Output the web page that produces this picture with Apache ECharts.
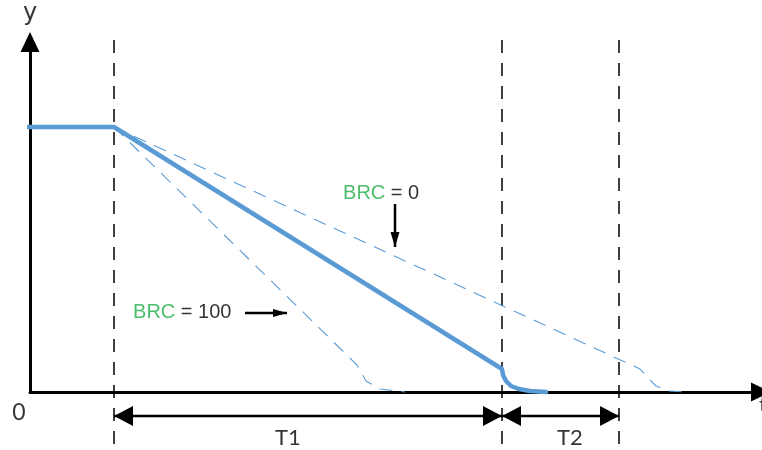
<!DOCTYPE html>
<html>
<head>
<meta charset="utf-8">
<script src="https://cdn.jsdelivr.net/npm/echarts@6/dist/echarts.min.js"></script>
<style>
html,body{margin:0;padding:0;background:#fff;}
#chart{width:762px;height:450px;}
</style>
</head>
<body>
<div id="chart"></div>
<script>
//坐标单位：原点在两轴交点，x向右，y向上
var mainLine = [[-2,265],[84,265],[472,23],[473,17],[476,11],[481,6],[489,3],[500,1],[516,0]];
var brc0Line = [[84,265],[610,23],[618,14],[626,6],[638,1],[658,0]];
var brc100Line = [[84,265],[327,27],[336,11],[350,3],[375,0]];
var guideX = [84, 472, 589];
var guideY = [352, -58];
var spans = [[84,472],[472,589]];
var spanY = -24;
var spanNames = ['T1','T2'];
var brc0Arrow = [[365,188],[365,145]];
var brc100Arrow = [[215,79],[257,79]];

var blue = '#5b9bd5';
var textFont = 'Lato, "Open Sans", sans-serif';

/************************** 箭头线 **************************/
function arrowSeries(from, to, len, wid, both, lw){
	var dx = to[0]-from[0], dy = to[1]-from[1];
	var d = Math.sqrt(dx*dx+dy*dy);
	var ux = dx/d, uy = dy/d;
	//三角形默认朝上，逆时针旋转
	var rotEnd = Math.atan2(uy, ux)*180/Math.PI - 90;
	var endItem = {
		value: to,
		symbol: 'triangle',
		symbolSize: [wid, len],
		symbolRotate: rotEnd,
		symbolOffset: [-ux*len/2, uy*len/2]
	};
	var startItem = {value: from, symbol: 'none'};
	if(both){
		startItem = {
			value: from,
			symbol: 'triangle',
			symbolSize: [wid, len],
			symbolRotate: rotEnd+180,
			symbolOffset: [ux*len/2, -uy*len/2]
		};
	}
	return {
		type: 'line',
		clip: false,
		silent: true,
		symbol: 'none',
		z: 5,
		itemStyle: {color: '#000'},
		lineStyle: {color: '#000', width: lw},
		data: [startItem, endItem]
	};
}

var series = [];
//竖向虚线
for(var i = 0; i < guideX.length; i++){
	series.push({
		type: 'line',
		clip: false,
		silent: true,
		symbol: 'none',
		z: 1,
		lineStyle: {color: '#000', width: 1.5, type: [13,10]},
		data: [[guideX[i], guideY[0]], [guideX[i], guideY[1]]]
	});
}
series.push({
	type: 'line', clip: false, silent: true, symbol: 'none', z: 3,
	lineStyle: {color: blue, width: 1.1, type: [13,9]},
	data: brc0Line
});
series.push({
	type: 'line', clip: false, silent: true, symbol: 'none', z: 3,
	lineStyle: {color: blue, width: 1.1, type: [13,9]},
	data: brc100Line
});
series.push({
	type: 'line', clip: false, silent: true, symbol: 'none', z: 4,
	lineStyle: {color: blue, width: 4.5, join: 'round', cap: 'round'},
	data: mainLine
});
for(var j = 0; j < spans.length; j++){
	series.push(arrowSeries([spans[j][0], spanY], [spans[j][1], spanY], 19, 20, true, 2.5));
}
series.push(arrowSeries(brc0Arrow[0], brc0Arrow[1], 15, 9, false, 2.5));
series.push(arrowSeries(brc100Arrow[0], brc100Arrow[1], 14, 8, false, 2.5));

//文字
var labels = [
	{value: [313,199], text: '{g|BRC} = 0', align: 'left'},
	{value: [103,80], text: '{g|BRC} = 100', align: 'left'},
	{value: [258,-46], text: spanNames[0], align: 'center', font: textFont, size: 22},
	{value: [540,-46], text: spanNames[1], align: 'center', font: textFont, size: 22},
	{value: [-11,-21], text: '0', align: 'center', font: textFont, size: 23},
	{value: [0,378], text: 'y', align: 'center', font: '"DejaVu Sans", sans-serif', size: 24},
	{value: [733,-13], text: 't', align: 'center', font: textFont, size: 22}
];
var labelData = [];
for(var k = 0; k < labels.length; k++){
	var lb = labels[k];
	labelData.push({
		value: lb.value,
		label: {
			show: true,
			position: lb.align == 'left' ? 'right' : 'inside',
			distance: 0,
			formatter: lb.text,
			fontFamily: lb.font || '"Liberation Sans", Arial, sans-serif',
			fontSize: lb.size || 20,
			color: '#000',
			rich: {
				g: {color: '#1fae48', fontSize: 20, fontFamily: '"Liberation Sans", Arial, sans-serif'}
			}
		}
	});
}
series.push({
	type: 'scatter',
	clip: false,
	silent: true,
	symbolSize: 0.1,
	itemStyle: {color: 'rgba(0,0,0,0)'},
	z: 6,
	data: labelData
});

var chart = echarts.init(document.getElementById('chart'), null, {renderer: 'canvas'});
chart.setOption({
	animation: false,
	backgroundColor: '#fff',
	grid: {left: 30, right: 1, top: 42, bottom: 58},
	xAxis: {
		type: 'value', min: 0, max: 731,
		axisLine: {lineStyle: {color: '#000', width: 3}, symbol: ['none','triangle'], symbolSize: [19,20]},
		axisTick: {show: false}, axisLabel: {show: false}, splitLine: {show: false}
	},
	yAxis: {
		type: 'value', min: 0, max: 350,
		axisLine: {show: true, lineStyle: {color: '#000', width: 3}, symbol: ['none','triangle'], symbolSize: [19,20]},
		axisTick: {show: false}, axisLabel: {show: false}, splitLine: {show: false}
	},
	series: series
});
</script>
</body>
</html>
